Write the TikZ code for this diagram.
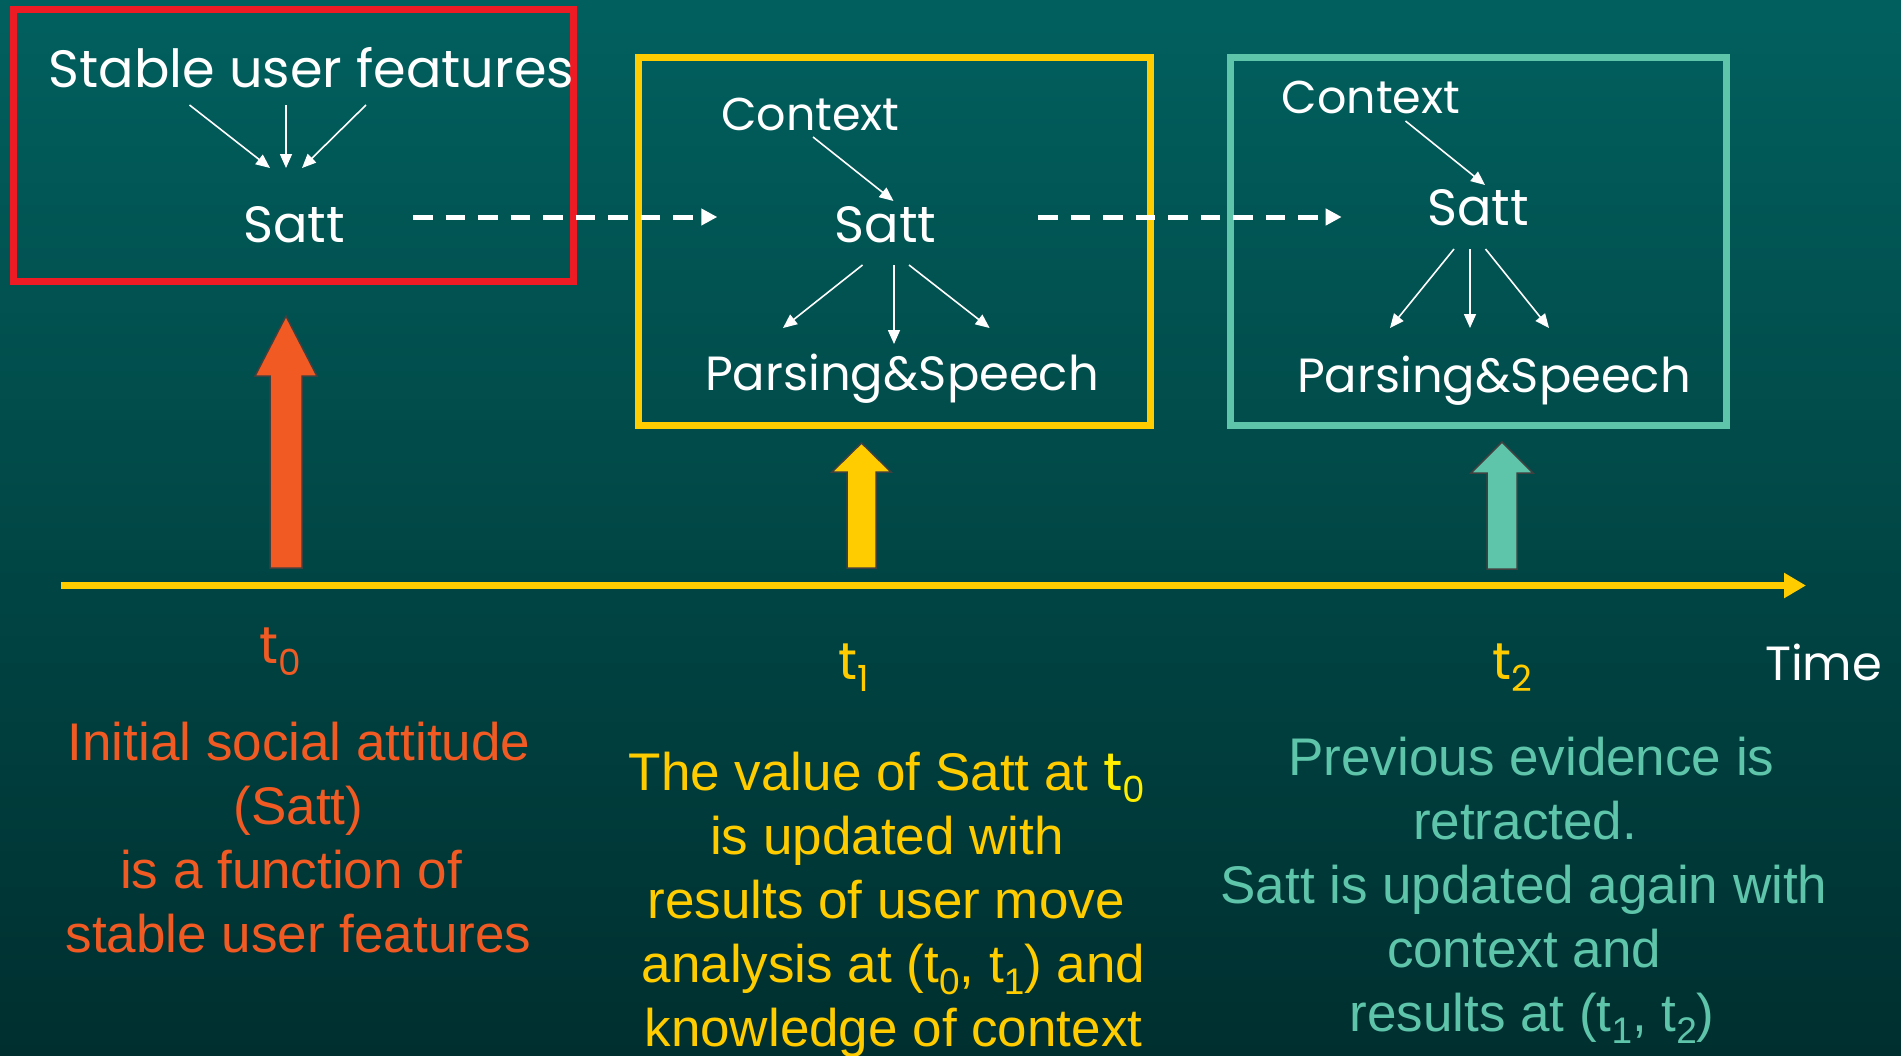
\documentclass[tikz,border=0pt]{standalone}
\usepackage{fontspec}
\setmainfont{Liberation Sans}
\newfontfamily\comic{Poppins}
\usetikzlibrary{arrows.meta}
\definecolor{bgtop}{RGB}{1,96,94}
\definecolor{bgbot}{RGB}{0,47,47}
\definecolor{cred}{RGB}{237,28,36}
\definecolor{cyel}{RGB}{255,204,0}
\definecolor{cteal}{RGB}{94,196,170}
\definecolor{corange}{RGB}{241,90,34}
\definecolor{cbright}{RGB}{255,238,0}
\definecolor{outl}{RGB}{64,64,64}
\newcommand\asub[1]{\raisebox{-12pt}{\fontsize{37}{37}\selectfont #1}}
\newcommand\csub[1]{\raisebox{-12pt}{\fontsize{36}{36}\selectfont #1}}
\begin{document}
\begin{tikzpicture}[x=1pt,y=-1pt,
  comictext/.style={text=white, inner sep=0pt, anchor=base, font=\comic\fontsize{48}{58}\selectfont},
  csize/.style={font=\comic\fontsize{#1}{#1}\selectfont},
  body/.style={inner sep=0pt, anchor=base, font=\fontsize{53}{64}\selectfont},
  thinarr/.style={white, line width=1.6pt, -{Triangle[length=14pt,width=12pt]}},
  dasharr/.style={white, line width=5pt, dash pattern=on 19.5pt off 13pt, -{Triangle[length=16pt,width=16pt]}},
  frame/.style={line width=7pt},
  blockarr/.style={draw=outl, line width=1.5pt, line join=miter}]
\useasboundingbox (0,0) rectangle (1901,1055);
\shade[top color=bgtop, bottom color=bgbot] (0,0) rectangle (1901,1055);

% frames
\draw[frame, cred] (13.5,9.3) rectangle (573.7,281);
\draw[frame, cyel] (638,57) rectangle (1150,425);
\draw[frame, cteal] (1230,57) rectangle (1726.5,425);

% box 1
\node[comictext, csize=52.5] (stable) at (311.5,87) {Stable user features};
\node[comictext, csize=51] (sattA) at (294,242) {Satt};
\coordinate (s1a) at (189.5,105); \coordinate (s1b) at (270,168);
\coordinate (s2a) at (286,105);   \coordinate (s2b) at (286,168);
\coordinate (s3a) at (366,105);   \coordinate (s3b) at (302,168);
\draw[thinarr] (s1a) -- (s1b);
\draw[thinarr] (s2a) -- (s2b);
\draw[thinarr] (s3a) -- (s3b);

% box 2
\node[comictext, csize=46] (ctxB) at (810.5,130) {Context};
\node[comictext, csize=51] (sattB) at (885.5,242) {Satt};
\node[comictext, csize=48] (psB) at (902,390) {Parsing\&Speech};
\coordinate (c2a) at (813,137); \coordinate (c2b) at (893.5,201);
\draw[thinarr] (c2a) -- (c2b);
\coordinate (b1a) at (862.5,265); \coordinate (b1b) at (783,328);
\coordinate (b2a) at (894,265);   \coordinate (b2b) at (894,344);
\coordinate (b3a) at (909,265);   \coordinate (b3b) at (989.6,328);
\draw[thinarr] (b1a) -- (b1b);
\draw[thinarr] (b2a) -- (b2b);
\draw[thinarr] (b3a) -- (b3b);

% box 3
\node[comictext, csize=46] (ctxC) at (1371,113) {Context};
\node[comictext, csize=51] (sattC) at (1478,225) {Satt};
\node[comictext, csize=48] (psC) at (1494,392) {Parsing\&Speech};
\coordinate (c3a) at (1405.5,121); \coordinate (c3b) at (1485,185);
\draw[thinarr] (c3a) -- (c3b);
\coordinate (d1a) at (1454,249); \coordinate (d1b) at (1390,328);
\coordinate (d2a) at (1470,249); \coordinate (d2b) at (1470,328);
\coordinate (d3a) at (1485.5,249); \coordinate (d3b) at (1549,328);
\draw[thinarr] (d1a) -- (d1b);
\draw[thinarr] (d2a) -- (d2b);
\draw[thinarr] (d3a) -- (d3b);

% dashed arrows
\coordinate (da1) at (413,217); \coordinate (db1) at (717.3,217);
\coordinate (da2) at (1038.3,217); \coordinate (db2) at (1341.7,217);
\draw[dasharr] (da1) -- (db1);
\draw[dasharr] (da2) -- (db2);

% block arrows
\fill[corange, blockarr] (286,316) -- (317,376) -- (302,376) -- (302,568) -- (270,568) -- (270,376) -- (255,376) -- cycle;
\fill[cyel, blockarr] (861.5,443) -- (891,472) -- (876,472) -- (876,568) -- (847,568) -- (847,472) -- (832,472) -- cycle;
\fill[cteal, blockarr] (1502,442) -- (1533,473) -- (1517,473) -- (1517,569) -- (1487,569) -- (1487,473) -- (1471,473) -- cycle;

% time axis
\coordinate (ax0) at (61,585.5); \coordinate (ax1) at (1806,585.5);
\draw[cyel, line width=7pt, -{Triangle[length=22pt,width=24pt]}] (ax0) -- (ax1);

% time labels
\node[comictext, text=corange, csize=52] (t0) at (280.5,663) {t\csub{0}};
\node[comictext, text=cyel, csize=52] (t1) at (853.5,679) {t\csub{1}};
\node[comictext, text=cyel, csize=52] (t2) at (1512.5,679) {t\csub{2}};
\node[comictext] (time) at (1823.5,680) {Time};

% orange text
\node[body, text=corange] (o1) at (299,760) {Initial social attitude};
\node[body, text=corange] (o2) at (298.5,824) {(Satt)};
\node[body, text=corange] (o3) at (291,888) {is a function of};
\node[body, text=corange] (o4) at (298.5,952) {stable user features};

% yellow text
\node[body, text=cyel] (y1) at (887,790) {The value of Satt at {\color{cbright}\comic t\csub{0}}};
\node[body, text=cyel] (y2) at (887,854) {is updated with};
\node[body, text=cyel] (y3) at (886,918) {results of user move};
\node[body, text=cyel] (y4) at (893.5,982) {analysis at (t\asub{0}, t\asub{1}) and};
\node[body, text=cyel] (y5) at (893.5,1046) {knowledge of context};

% teal text
\node[body, text=cteal] (g1) at (1531.5,775) {Previous evidence is};
\node[body, text=cteal] (g2) at (1525,839) {retracted.};
\node[body, text=cteal] (g3) at (1524,903) {Satt is updated again with};
\node[body, text=cteal] (g4) at (1524,967) {context and};
\node[body, text=cteal] (g5) at (1532,1031) {results at (t\asub{1}, t\asub{2})};
\end{tikzpicture}
\end{document}
